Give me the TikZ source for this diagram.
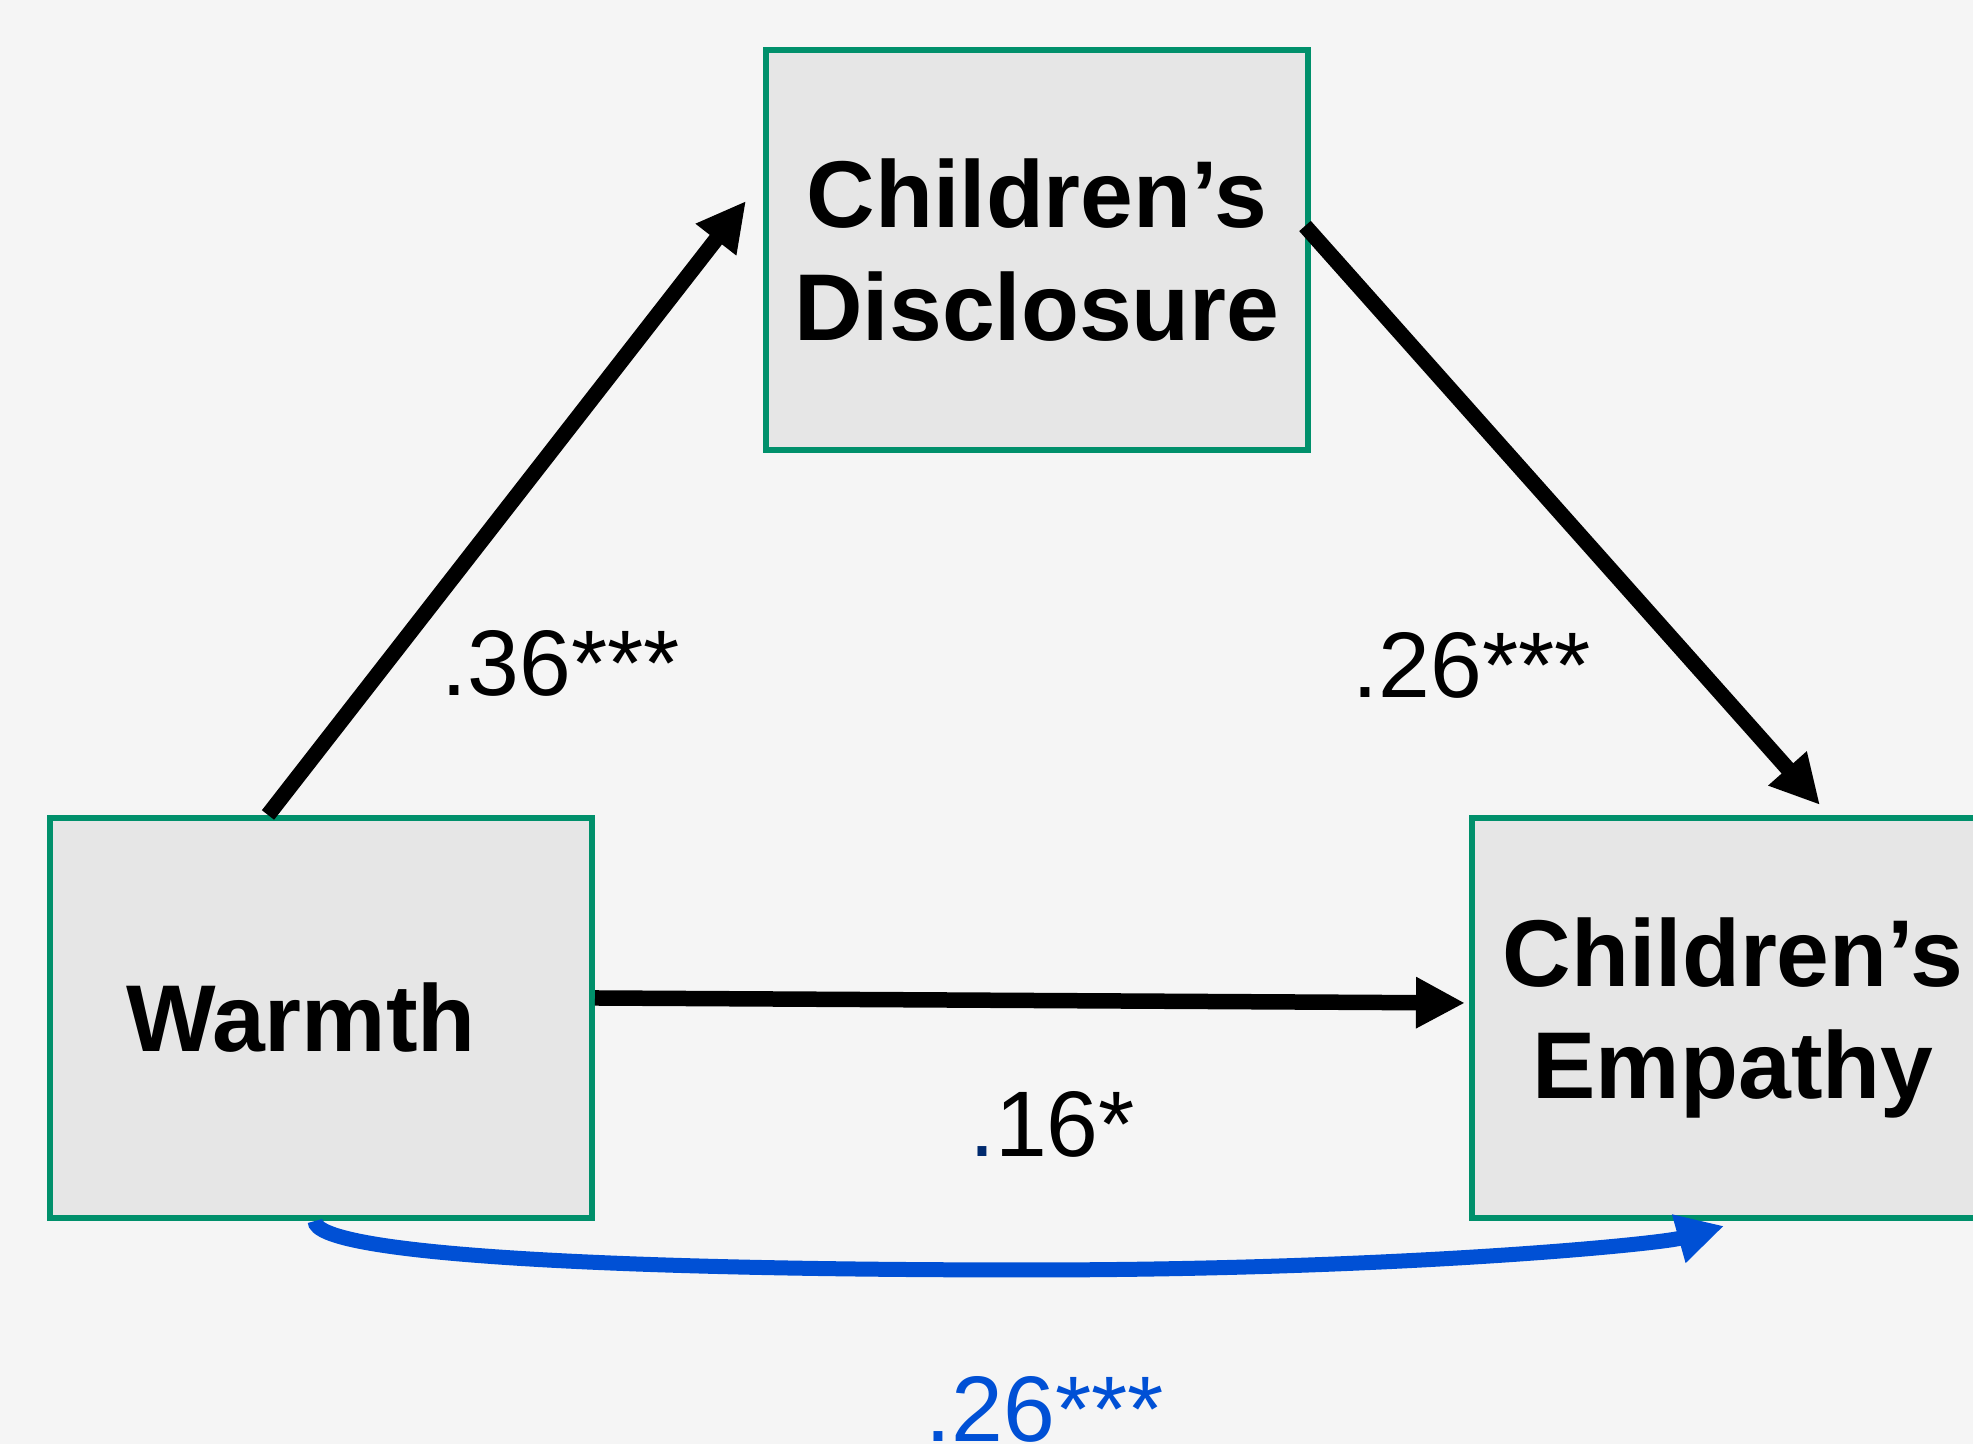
\documentclass[tikz,border=0pt]{standalone}
\usepackage{fontspec}
\setmainfont{Liberation Sans}
\usetikzlibrary{calc,arrows.meta}
\definecolor{boxgreen}{HTML}{00906B}
\definecolor{boxgray}{HTML}{E6E6E6}
\definecolor{pagegray}{HTML}{F5F5F5}
\definecolor{totalblue}{HTML}{0050D5}
\definecolor{dotnavy}{HTML}{002A6E}
\tikzset{
	varbox/.style={draw=boxgreen, line width=0.06cm, fill=boxgray, minimum width=5.42cm, minimum height=4cm, inner sep=0pt, align=center, font=\fontsize{27}{32}\selectfont\bfseries},
	coeflbl/.style={anchor=base, inner sep=0pt, font=\fontsize{26.5}{30}\selectfont},
	patharrow/.style={line width=0.155cm, -{Triangle[length=0.49cm,width=0.48cm]}},
	totalarrow/.style={line width=0.15cm, color=totalblue, -{Triangle[length=0.47cm,width=0.47cm]}}
}

\begin{document}
\begin{tikzpicture}
		%%%%% START %%%%%
		
		\useasboundingbox (0, 0) rectangle (19.73, 14.44);
		\fill[pagegray] (0, 0) rectangle (19.73, 14.44);
		
		\node[varbox] (disc) at (10.37, 11.94) {Children’s\\Disclosure};
		\node[varbox] (warmth) at (3.21, 4.26) {Warmth\hspace*{0.4cm}};
		\node[varbox] (emp) at (17.43, 4.26) {Children’s\hspace*{0.2cm}\\Empathy\hspace*{0.2cm}};
		
		\draw[patharrow] ($(warmth.north)+(-0.53, 0)$) -- ($(disc.west)+(-0.17, 0.49)$);
		\draw[patharrow] ($(disc.east)+(-0.06, 0.24)$) -- ($(emp.north)+(0.77, 0.10)$);
		\draw[patharrow] ($(warmth.east)+(0, 0.20)$) -- ($(emp.west)+(-0.04, 0.15)$);
		
		\draw[totalarrow] ($(warmth.south)+(-0.06, 0)$) .. controls (3.15, 1.9) and (6, 1.74) .. (10.3, 1.74) .. controls (14, 1.74) and (16.6, 2.0) .. ($(emp.south)+(-0.19, -0.05)$);
		
		\node[coeflbl] (a) at (5.61, 7.48) {.36***};
		\node[coeflbl] (b) at (14.72, 7.46) {.26***};
		\node[coeflbl] (c) at (10.52, 2.87) {{\color{dotnavy}.}16*};
		\node[coeflbl, color=totalblue] (cprime) at (10.45, 0.02) {.26***};
		
		%%%%% END %%%%%
	\end{tikzpicture}
\end{document}
